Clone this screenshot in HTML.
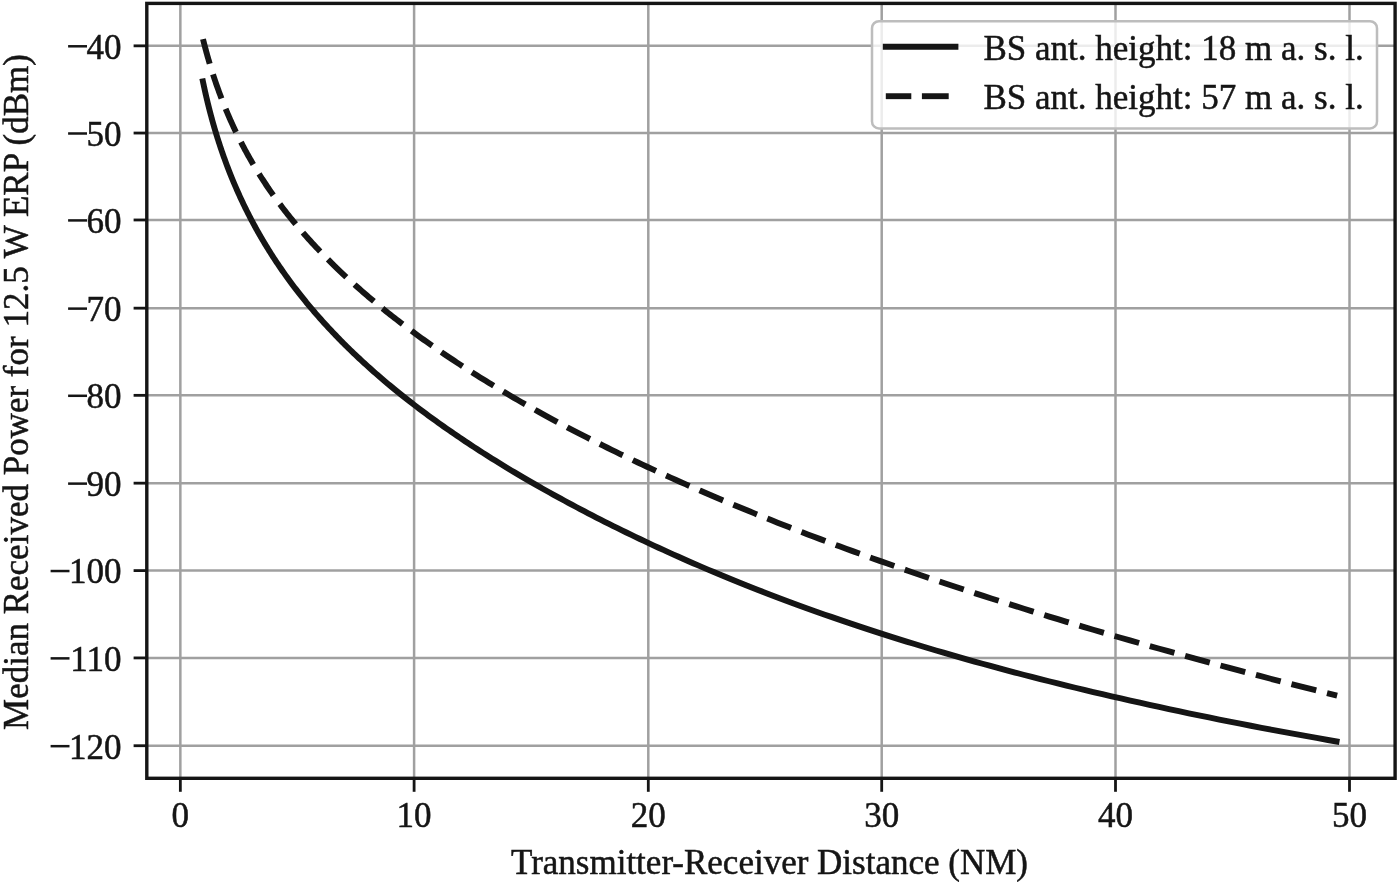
<!DOCTYPE html>
<html><head><meta charset="utf-8"><style>
html,body{margin:0;padding:0;background:#fff;}
body{width:1400px;height:883px;overflow:hidden;}
svg{display:block;}
#w{width:1400px;height:883px;will-change:transform;}
text{font-family:"Liberation Serif",serif;font-size:35px;fill:#151515;stroke:#151515;stroke-width:0.5px;}
</style></head><body><div id="w">
<svg width="1400" height="883" viewBox="0 0 1400 883">
<rect width="1400" height="883" fill="#fff"/>
<defs><clipPath id="ax"><rect x="146.8" y="3.4" width="1248.3" height="774.9"/></clipPath></defs>
<g stroke="#a0a0a0" stroke-width="2.5"><line x1="180.35" y1="3.4" x2="180.35" y2="778.3"/><line x1="414.10" y1="3.4" x2="414.10" y2="778.3"/><line x1="648.30" y1="3.4" x2="648.30" y2="778.3"/><line x1="881.70" y1="3.4" x2="881.70" y2="778.3"/><line x1="1115.50" y1="3.4" x2="1115.50" y2="778.3"/><line x1="1349.50" y1="3.4" x2="1349.50" y2="778.3"/><line x1="146.8" y1="45.84" x2="1395.1" y2="45.84"/><line x1="146.8" y1="133.04" x2="1395.1" y2="133.04"/><line x1="146.8" y1="219.97" x2="1395.1" y2="219.97"/><line x1="146.8" y1="308.17" x2="1395.1" y2="308.17"/><line x1="146.8" y1="395.34" x2="1395.1" y2="395.34"/><line x1="146.8" y1="483.17" x2="1395.1" y2="483.17"/><line x1="146.8" y1="570.59" x2="1395.1" y2="570.59"/><line x1="146.8" y1="657.92" x2="1395.1" y2="657.92"/><line x1="146.8" y1="745.72" x2="1395.1" y2="745.72"/></g>
<g clip-path="url(#ax)" fill="none" stroke="#151515" stroke-width="5.9" stroke-linecap="butt" stroke-linejoin="round">
<path d="M202.31,78.48 L202.53,79.56 L202.75,80.64 L202.97,81.72 L203.20,82.81 L203.43,83.89 L203.66,84.98 L203.89,86.06 L204.12,87.15 L204.36,88.24 L204.60,89.34 L204.84,90.43 L205.09,91.53 L205.33,92.63 L205.58,93.72 L205.83,94.83 L206.09,95.93 L206.34,97.03 L206.60,98.14 L206.86,99.25 L207.13,100.36 L207.40,101.47 L207.66,102.58 L207.94,103.70 L208.21,104.81 L208.49,105.93 L208.77,107.05 L209.05,108.18 L209.34,109.30 L209.63,110.43 L209.92,111.55 L210.22,112.68 L210.51,113.82 L210.81,114.95 L211.12,116.09 L211.43,117.22 L211.74,118.36 L212.05,119.50 L212.36,120.65 L212.68,121.79 L213.01,122.94 L213.33,124.09 L213.66,125.24 L213.99,126.40 L214.33,127.55 L214.67,128.71 L215.01,129.87 L215.36,131.03 L215.70,132.19 L216.06,133.36 L216.41,134.53 L216.77,135.70 L217.14,136.87 L217.50,138.04 L217.87,139.22 L218.25,140.40 L218.63,141.58 L219.01,142.76 L219.40,143.95 L219.78,145.14 L220.18,146.33 L220.58,147.52 L220.98,148.71 L221.38,149.91 L221.79,151.11 L222.21,152.31 L222.62,153.51 L223.05,154.72 L223.47,155.93 L223.90,157.14 L224.34,158.35 L224.78,159.56 L225.22,160.78 L225.67,162.00 L226.12,163.22 L226.58,164.45 L227.04,165.67 L227.50,166.90 L227.97,168.13 L228.45,169.37 L228.93,170.60 L229.41,171.84 L229.90,173.09 L230.40,174.33 L230.90,175.58 L231.40,176.83 L231.91,178.08 L232.43,179.33 L232.95,180.59 L233.47,181.85 L234.00,183.11 L234.54,184.37 L235.08,185.64 L235.63,186.91 L236.18,188.18 L236.74,189.46 L237.30,190.73 L237.87,192.01 L238.44,193.30 L239.02,194.58 L239.61,195.87 L240.20,197.16 L240.80,198.45 L241.40,199.75 L242.01,201.05 L242.63,202.35 L243.25,203.66 L243.88,204.96 L244.51,206.27 L245.15,207.59 L245.80,208.90 L246.45,210.22 L247.11,211.54 L247.78,212.87 L248.45,214.19 L249.13,215.52 L249.82,216.86 L250.51,218.19 L251.21,219.53 L251.92,220.87 L252.64,222.22 L253.36,223.56 L254.09,224.91 L254.82,226.27 L255.57,227.62 L256.32,228.98 L257.08,230.34 L257.84,231.71 L258.62,233.08 L259.40,234.45 L260.19,235.82 L260.99,237.20 L261.79,238.58 L262.61,239.96 L263.43,241.35 L264.26,242.74 L265.10,244.13 L265.94,245.53 L266.80,246.92 L267.66,248.33 L268.53,249.73 L269.41,251.14 L270.30,252.55 L271.20,253.97 L272.11,255.38 L273.03,256.80 L273.95,258.23 L274.89,259.66 L275.83,261.09 L276.79,262.52 L277.75,263.96 L278.72,265.40 L279.70,266.84 L280.70,268.29 L281.70,269.74 L282.71,271.19 L283.74,272.65 L284.77,274.11 L285.81,275.58 L286.86,277.04 L287.93,278.51 L289.00,279.99 L290.09,281.46 L291.19,282.95 L292.29,284.43 L293.41,285.92 L294.54,287.41 L295.68,288.90 L296.84,290.40 L298.00,291.90 L299.17,293.41 L300.36,294.92 L301.56,296.43 L302.77,297.94 L304.00,299.46 L305.23,300.98 L306.48,302.51 L307.74,304.04 L309.01,305.57 L310.30,307.11 L311.60,308.65 L312.91,310.20 L314.23,311.74 L315.57,313.30 L316.92,314.85 L318.29,316.41 L319.66,317.97 L321.06,319.54 L322.46,321.11 L323.88,322.68 L325.32,324.26 L326.77,325.84 L328.23,327.42 L329.71,329.01 L331.20,330.61 L332.71,332.20 L334.23,333.80 L335.77,335.41 L337.32,337.01 L338.89,338.62 L340.47,340.24 L342.07,341.86 L343.69,343.48 L345.32,345.11 L346.97,346.74 L348.64,348.37 L350.32,350.01 L352.02,351.66 L353.73,353.30 L355.47,354.95 L357.22,356.61 L358.98,358.27 L360.77,359.93 L362.57,361.60 L364.39,363.27 L366.23,364.94 L368.09,366.62 L369.97,368.31 L371.86,370.00 L373.78,371.69 L375.71,373.39 L377.66,375.09 L379.63,376.79 L381.63,378.51 L383.64,380.22 L385.67,381.94 L387.72,383.66 L389.80,385.39 L391.89,387.13 L394.00,388.86 L396.14,390.61 L398.30,392.35 L400.47,394.11 L402.67,395.86 L404.90,397.63 L407.14,399.39 L409.41,401.16 L411.70,402.94 L414.01,404.72 L416.34,406.51 L418.70,408.30 L421.09,410.10 L423.49,411.90 L425.92,413.70 L428.38,415.51 L430.86,417.33 L433.36,419.15 L435.89,420.98 L438.44,422.81 L441.02,424.65 L443.63,426.49 L446.26,428.34 L448.92,430.20 L451.60,432.05 L454.31,433.92 L457.05,435.79 L459.82,437.66 L462.61,439.54 L465.43,441.43 L468.28,443.32 L471.16,445.22 L474.07,447.12 L477.01,449.03 L479.97,450.95 L482.97,452.87 L485.99,454.79 L489.05,456.73 L492.13,458.66 L495.25,460.61 L498.40,462.56 L501.58,464.51 L504.79,466.47 L508.03,468.44 L511.31,470.41 L514.61,472.39 L517.96,474.38 L521.33,476.37 L524.74,478.37 L528.18,480.37 L531.66,482.38 L535.17,484.39 L538.72,486.42 L542.30,488.45 L545.92,490.48 L549.57,492.52 L553.26,494.57 L556.99,496.62 L560.76,498.68 L564.56,500.75 L568.40,502.82 L572.28,504.90 L576.20,506.99 L580.15,509.08 L584.15,511.18 L588.19,513.29 L592.27,515.40 L596.38,517.52 L600.54,519.64 L604.74,521.77 L608.99,523.91 L613.27,526.05 L617.60,528.20 L621.97,530.35 L626.38,532.51 L630.84,534.67 L635.35,536.84 L639.90,539.01 L644.49,541.19 L649.13,543.37 L653.82,545.56 L658.55,547.75 L663.33,549.94 L668.16,552.14 L673.04,554.34 L677.96,556.55 L682.94,558.76 L687.96,560.97 L693.04,563.18 L698.16,565.40 L703.34,567.62 L708.57,569.85 L713.85,572.07 L719.18,574.30 L724.57,576.53 L730.01,578.77 L735.50,581.00 L741.05,583.24 L746.66,585.48 L752.32,587.72 L758.04,589.96 L763.81,592.20 L769.65,594.45 L775.54,596.69 L781.49,598.94 L787.50,601.18 L793.57,603.43 L799.70,605.68 L805.89,607.92 L812.15,610.17 L818.46,612.42 L824.84,614.67 L831.29,616.91 L837.79,619.16 L844.37,621.41 L851.00,623.65 L857.71,625.89 L864.48,628.14 L871.32,630.38 L878.23,632.62 L885.21,634.86 L892.25,637.09 L899.37,639.33 L906.56,641.56 L913.82,643.79 L921.15,646.02 L928.56,648.25 L936.04,650.47 L943.59,652.69 L951.23,654.91 L958.93,657.13 L966.72,659.34 L974.58,661.55 L982.52,663.75 L990.54,665.96 L998.64,668.15 L1006.82,670.35 L1015.08,672.54 L1023.43,674.73 L1031.86,676.91 L1040.37,679.09 L1048.97,681.26 L1057.65,683.43 L1066.43,685.59 L1075.28,687.75 L1084.23,689.91 L1093.27,692.06 L1102.40,694.21 L1111.61,696.35 L1120.93,698.48 L1130.33,700.62 L1139.83,702.74 L1149.42,704.86 L1159.11,706.98 L1168.89,709.08 L1178.78,711.19 L1188.76,713.28 L1198.84,715.38 L1209.03,717.46 L1219.31,719.54 L1229.70,721.61 L1240.19,723.68 L1250.79,725.74 L1261.49,727.80 L1272.30,729.84 L1283.22,731.88 L1294.24,733.92 L1305.38,735.94 L1316.63,737.96 L1327.99,739.98 L1339.46,741.98"/>
<path d="M202.99,39.08 L203.21,39.98 L203.44,40.88 L203.67,41.79 L203.90,42.70 L204.13,43.61 L204.36,44.52 L204.60,45.44 L204.84,46.35 L205.08,47.27 L205.33,48.20 L205.58,49.12 L205.82,50.05 L206.08,50.98 L206.33,51.92 L206.59,52.85 L206.85,53.79 L207.11,54.73 L207.37,55.68 L207.64,56.62 L207.91,57.57 L208.18,58.53 L208.46,59.48 L208.74,60.44 L209.02,61.40 L209.30,62.36 L209.59,63.32 L209.88,64.29 L210.17,65.26 L210.46,66.23 L210.76,67.21 L211.06,68.19 L211.37,69.17 L211.67,70.15 L211.98,71.13 L212.29,72.12 L212.61,73.11 L212.93,74.11 L213.25,75.10 L213.58,76.10 L213.91,77.10 L214.24,78.11 L214.57,79.11 L214.91,80.12 L215.25,81.13 L215.60,82.15 L215.95,83.16 L216.30,84.18 L216.66,85.21 L217.02,86.23 L217.38,87.26 L217.74,88.29 L218.11,89.32 L218.49,90.36 L218.87,91.40 L219.25,92.44 L219.63,93.48 L220.02,94.53 L220.41,95.57 L220.81,96.63 L221.21,97.68 L221.61,98.74 L222.02,99.80 L222.43,100.86 L222.85,101.92 L223.27,102.99 L223.70,104.06 L224.13,105.13 L224.56,106.21 L225.00,107.29 L225.44,108.37 L225.89,109.45 L226.34,110.54 L226.79,111.63 L227.25,112.72 L227.72,113.81 L228.18,114.91 L228.66,116.01 L229.14,117.11 L229.62,118.22 L230.11,119.33 L230.60,120.44 L231.10,121.55 L231.60,122.67 L232.11,123.78 L232.62,124.91 L233.14,126.03 L233.66,127.16 L234.19,128.29 L234.72,129.42 L235.26,130.55 L235.80,131.69 L236.35,132.83 L236.91,133.98 L237.47,135.12 L238.03,136.27 L238.60,137.42 L239.18,138.58 L239.76,139.73 L240.35,140.89 L240.95,142.05 L241.55,143.22 L242.15,144.39 L242.76,145.56 L243.38,146.73 L244.01,147.91 L244.64,149.09 L245.27,150.27 L245.92,151.45 L246.57,152.64 L247.22,153.83 L247.88,155.02 L248.55,156.22 L249.23,157.42 L249.91,158.62 L250.60,159.82 L251.29,161.03 L252.00,162.24 L252.71,163.45 L253.42,164.67 L254.15,165.88 L254.88,167.11 L255.62,168.33 L256.36,169.56 L257.12,170.78 L257.88,172.02 L258.64,173.25 L259.42,174.49 L260.20,175.73 L260.99,176.97 L261.79,178.22 L262.60,179.47 L263.41,180.72 L264.24,181.97 L265.07,183.23 L265.91,184.49 L266.76,185.75 L267.61,187.02 L268.48,188.29 L269.35,189.56 L270.23,190.83 L271.12,192.11 L272.02,193.39 L272.93,194.67 L273.85,195.96 L274.77,197.25 L275.71,198.54 L276.65,199.84 L277.61,201.14 L278.57,202.44 L279.54,203.75 L280.53,205.06 L281.52,206.37 L282.52,207.69 L283.53,209.00 L284.56,210.33 L285.59,211.65 L286.63,212.98 L287.69,214.31 L288.75,215.65 L289.82,216.99 L290.91,218.33 L292.00,219.68 L293.11,221.03 L294.23,222.39 L295.36,223.74 L296.50,225.10 L297.65,226.47 L298.81,227.84 L299.98,229.21 L301.17,230.59 L302.37,231.97 L303.58,233.35 L304.80,234.74 L306.03,236.13 L307.27,237.53 L308.53,238.93 L309.80,240.33 L311.09,241.74 L312.38,243.15 L313.69,244.57 L315.01,245.99 L316.35,247.41 L317.69,248.84 L319.06,250.27 L320.43,251.71 L321.82,253.15 L323.22,254.60 L324.64,256.05 L326.07,257.50 L327.51,258.96 L328.97,260.42 L330.44,261.89 L331.93,263.36 L333.43,264.84 L334.95,266.32 L336.48,267.80 L338.03,269.29 L339.59,270.78 L341.17,272.28 L342.76,273.79 L344.37,275.29 L346.00,276.81 L347.64,278.32 L349.30,279.85 L350.97,281.37 L352.67,282.91 L354.37,284.44 L356.10,285.98 L357.84,287.53 L359.60,289.08 L361.38,290.64 L363.17,292.20 L364.98,293.76 L366.81,295.33 L368.66,296.91 L370.53,298.49 L372.41,300.08 L374.32,301.67 L376.24,303.27 L378.18,304.87 L380.14,306.47 L382.12,308.09 L384.12,309.70 L386.14,311.33 L388.18,312.95 L390.24,314.59 L392.32,316.23 L394.42,317.87 L396.55,319.52 L398.69,321.17 L400.85,322.83 L403.04,324.50 L405.25,326.17 L407.48,327.85 L409.73,329.53 L412.00,331.22 L414.30,332.91 L416.62,334.61 L418.96,336.32 L421.33,338.03 L423.71,339.75 L426.13,341.47 L428.56,343.20 L431.02,344.93 L433.51,346.67 L436.02,348.42 L438.55,350.17 L441.11,351.93 L443.70,353.69 L446.31,355.46 L448.95,357.23 L451.61,359.02 L454.30,360.80 L457.01,362.60 L459.76,364.39 L462.53,366.20 L465.32,368.01 L468.15,369.83 L471.00,371.65 L473.88,373.48 L476.79,375.32 L479.73,377.16 L482.70,379.01 L485.70,380.86 L488.72,382.72 L491.78,384.59 L494.87,386.46 L497.99,388.34 L501.14,390.23 L504.32,392.12 L507.53,394.02 L510.77,395.92 L514.05,397.84 L517.36,399.75 L520.70,401.68 L524.07,403.61 L527.48,405.54 L530.92,407.49 L534.40,409.44 L537.91,411.39 L541.45,413.36 L545.03,415.33 L548.65,417.30 L552.30,419.29 L555.99,421.28 L559.71,423.27 L563.47,425.27 L567.27,427.28 L571.11,429.30 L574.98,431.32 L578.89,433.35 L582.84,435.39 L586.83,437.43 L590.86,439.48 L594.93,441.54 L599.05,443.60 L603.20,445.68 L607.39,447.75 L611.62,449.84 L615.90,451.93 L620.22,454.03 L624.58,456.13 L628.98,458.25 L633.43,460.37 L637.92,462.49 L642.46,464.63 L647.04,466.77 L651.67,468.91 L656.34,471.07 L661.06,473.23 L665.83,475.40 L670.64,477.58 L675.50,479.76 L680.41,481.95 L685.37,484.15 L690.38,486.35 L695.43,488.57 L700.54,490.79 L705.70,493.02 L710.91,495.25 L716.17,497.49 L721.48,499.74 L726.85,502.00 L732.26,504.26 L737.74,506.53 L743.26,508.81 L748.84,511.10 L754.48,513.39 L760.17,515.70 L765.92,518.01 L771.73,520.32 L777.59,522.65 L783.51,524.98 L789.49,527.32 L795.53,529.66 L801.63,532.02 L807.79,534.38 L814.01,536.75 L820.30,539.13 L826.64,541.51 L833.05,543.90 L839.52,546.30 L846.06,548.71 L852.66,551.13 L859.33,553.55 L866.06,555.98 L872.86,558.42 L879.72,560.86 L886.66,563.31 L893.66,565.77 L900.73,568.24 L907.88,570.72 L915.09,573.20 L922.38,575.69 L929.73,578.19 L937.16,580.69 L944.67,583.21 L952.25,585.73 L959.90,588.25 L967.63,590.79 L975.44,593.33 L983.32,595.88 L991.28,598.44 L999.32,601.01 L1007.44,603.58 L1015.64,606.16 L1023.93,608.75 L1032.29,611.35 L1040.74,613.95 L1049.27,616.57 L1057.89,619.19 L1066.59,621.81 L1075.37,624.45 L1084.25,627.09 L1093.21,629.74 L1102.26,632.40 L1111.41,635.06 L1120.64,637.74 L1129.96,640.42 L1139.38,643.10 L1148.89,645.80 L1158.49,648.50 L1168.19,651.21 L1177.98,653.93 L1187.88,656.66 L1197.87,659.39 L1207.96,662.13 L1218.15,664.88 L1228.44,667.64 L1238.83,670.41 L1249.32,673.18 L1259.92,675.96 L1270.63,678.75 L1281.44,681.54 L1292.36,684.34 L1303.38,687.15 L1314.52,689.97 L1325.77,692.80 L1337.12,695.63" stroke-dasharray="25.55 11.12"/>
</g>
<g stroke="#151515" stroke-width="3.4">
<rect x="146.8" y="3.4" width="1248.30" height="774.90" fill="none" stroke-linejoin="miter" stroke-linecap="square"/>
</g>
<g stroke="#151515" stroke-width="2.8"><line x1="180.35" y1="778.3" x2="180.35" y2="791.8"/><line x1="414.10" y1="778.3" x2="414.10" y2="791.8"/><line x1="648.30" y1="778.3" x2="648.30" y2="791.8"/><line x1="881.70" y1="778.3" x2="881.70" y2="791.8"/><line x1="1115.50" y1="778.3" x2="1115.50" y2="791.8"/><line x1="1349.50" y1="778.3" x2="1349.50" y2="791.8"/><line x1="133.6" y1="45.84" x2="146.8" y2="45.84"/><line x1="133.6" y1="133.04" x2="146.8" y2="133.04"/><line x1="133.6" y1="219.97" x2="146.8" y2="219.97"/><line x1="133.6" y1="308.17" x2="146.8" y2="308.17"/><line x1="133.6" y1="395.34" x2="146.8" y2="395.34"/><line x1="133.6" y1="483.17" x2="146.8" y2="483.17"/><line x1="133.6" y1="570.59" x2="146.8" y2="570.59"/><line x1="133.6" y1="657.92" x2="146.8" y2="657.92"/><line x1="133.6" y1="745.72" x2="146.8" y2="745.72"/></g>
<g><text x="180.35" y="826.5" text-anchor="middle">0</text><text x="414.10" y="826.5" text-anchor="middle">10</text><text x="648.30" y="826.5" text-anchor="middle">20</text><text x="881.70" y="826.5" text-anchor="middle">30</text><text x="1115.50" y="826.5" text-anchor="middle">40</text><text x="1349.50" y="826.5" text-anchor="middle">50</text><text x="121.5" y="58.74" text-anchor="end">40</text><text x="121.5" y="145.94" text-anchor="end">50</text><text x="121.5" y="232.87" text-anchor="end">60</text><text x="121.5" y="321.07" text-anchor="end">70</text><text x="121.5" y="408.24" text-anchor="end">80</text><text x="121.5" y="496.07" text-anchor="end">90</text><text x="121.5" y="583.49" text-anchor="end">100</text><text x="121.5" y="670.82" text-anchor="end">110</text><text x="121.5" y="758.62" text-anchor="end">120</text></g>
<g stroke="#151515" stroke-width="2.5"><line x1="68.10" y1="46.29" x2="87.00" y2="46.29"/><line x1="68.10" y1="133.49" x2="87.00" y2="133.49"/><line x1="68.10" y1="220.42" x2="87.00" y2="220.42"/><line x1="68.10" y1="308.62" x2="87.00" y2="308.62"/><line x1="68.10" y1="395.79" x2="87.00" y2="395.79"/><line x1="68.10" y1="483.62" x2="87.00" y2="483.62"/><line x1="50.60" y1="571.04" x2="69.50" y2="571.04"/><line x1="50.60" y1="658.37" x2="69.50" y2="658.37"/><line x1="50.60" y1="746.17" x2="69.50" y2="746.17"/></g>
<g>
<rect x="872" y="21.2" width="505" height="107.2" rx="7" ry="7" fill="#fff" fill-opacity="0.8" stroke="#bdbdbd" stroke-width="2.5"/>
<line x1="882.8" y1="46.8" x2="958.4" y2="46.8" stroke="#151515" stroke-width="5.9"/>
<line x1="885.8" y1="96.2" x2="911.3" y2="96.2" stroke="#151515" stroke-width="5.9"/>
<line x1="921.9" y1="96.2" x2="948.7" y2="96.2" stroke="#151515" stroke-width="5.9"/>
<text x="983.5" y="59.8">BS ant. height: 18 m a. s. l.</text>
<text x="983.5" y="109.4">BS ant. height: 57 m a. s. l.</text>
</g>
<text x="769.5" y="873.6" text-anchor="middle">Transmitter-Receiver Distance (NM)</text>
<text transform="translate(28.4,392) rotate(-90)" text-anchor="middle">Median Received Power for 12.5 W ERP (dBm)</text>
</svg></div>
</body></html>
